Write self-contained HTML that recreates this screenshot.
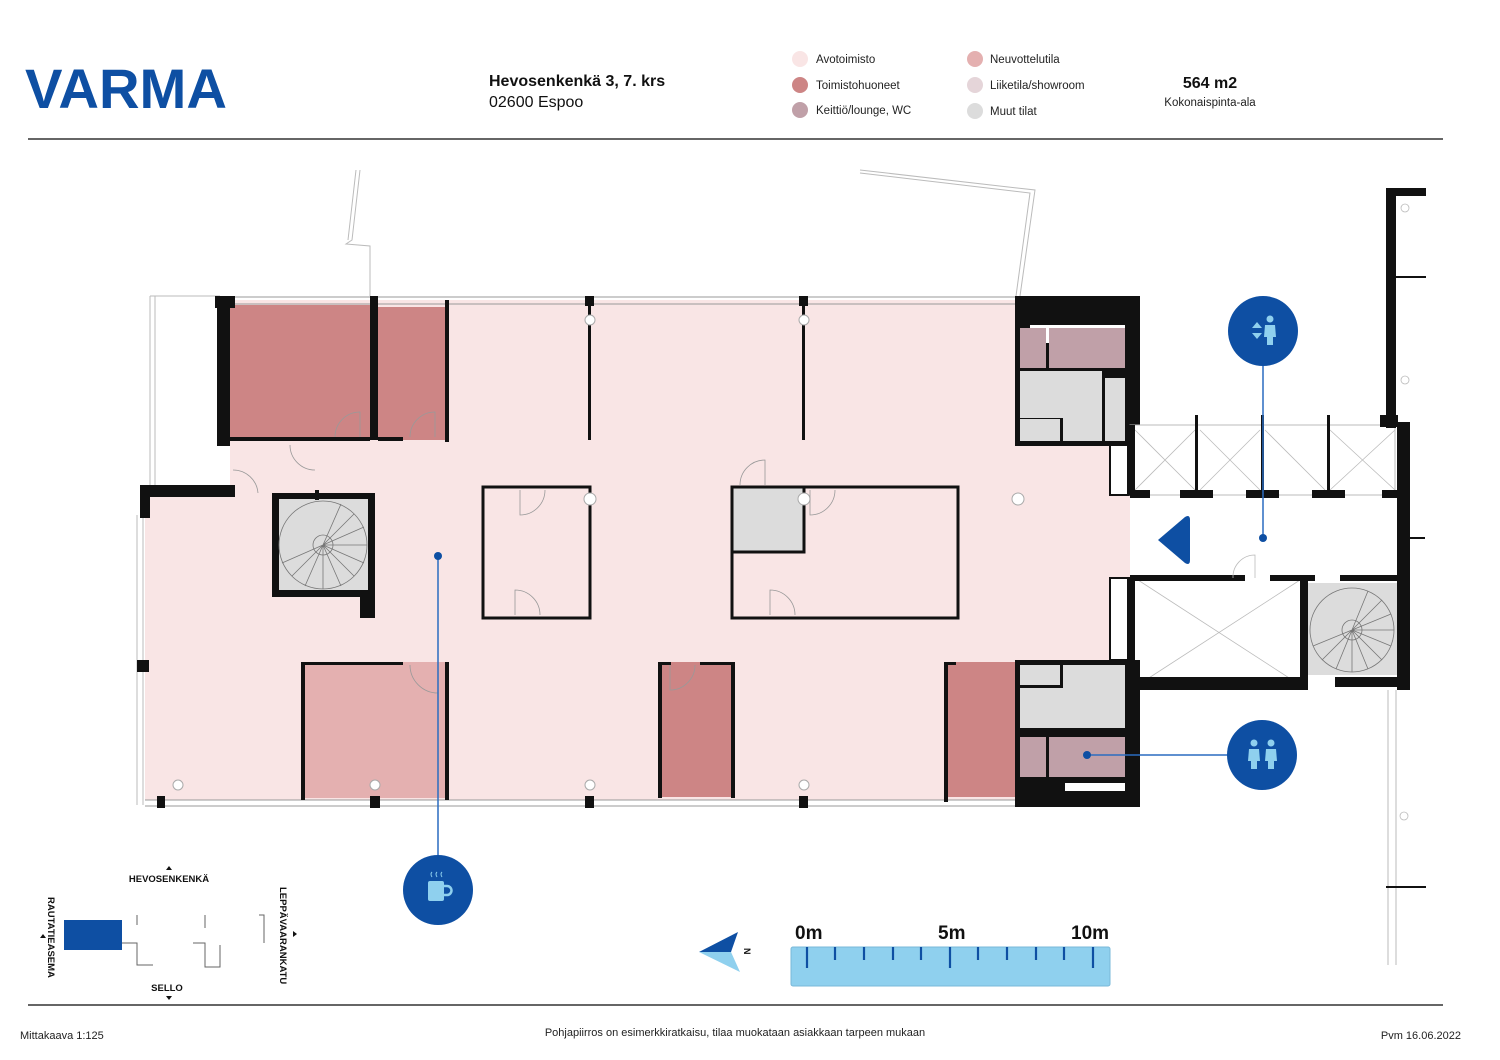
<!DOCTYPE html>
<html><head><meta charset="utf-8">
<style>
html,body{margin:0;padding:0;background:#fff;}
svg{display:block;}
text{font-family:"Liberation Sans",sans-serif;}
</style></head>
<body>
<svg width="1500" height="1060" viewBox="0 0 1500 1060" xmlns="http://www.w3.org/2000/svg">
<rect width="1500" height="1060" fill="#fff"/>
<!-- Header -->
<text x="25" y="108" font-size="56" font-weight="bold" fill="#0e4fa3" font-family="Liberation Sans Narrow, Liberation Sans, sans-serif" textLength="202" lengthAdjust="spacingAndGlyphs">VARMA</text>
<text x="489" y="86" font-size="16" font-weight="bold" fill="#111">Hevosenkenkä 3, 7. krs</text>
<text x="489" y="107" font-size="16" fill="#111">02600 Espoo</text>
<g font-size="11.5" fill="#222">
<circle cx="800" cy="59" r="8" fill="#f9e5e5"/><text x="816" y="63">Avotoimisto</text>
<circle cx="800" cy="85" r="8" fill="#cd8585"/><text x="816" y="89">Toimistohuoneet</text>
<circle cx="800" cy="110" r="8" fill="#c0a0a8"/><text x="816" y="114">Keittiö/lounge, WC</text>
<circle cx="975" cy="59" r="8" fill="#e4b0b0"/><text x="990" y="63">Neuvottelutila</text>
<circle cx="975" cy="85" r="8" fill="#e5d5d9"/><text x="990" y="89">Liiketila/showroom</text>
<circle cx="975" cy="111" r="8" fill="#dcdcdc"/><text x="990" y="115">Muut tilat</text>
</g>
<text x="1210" y="88" font-size="16" font-weight="bold" text-anchor="middle" fill="#111">564 m2</text>
<text x="1210" y="106" font-size="11.5" text-anchor="middle" fill="#222">Kokonaispinta-ala</text>
<line x1="28" y1="139" x2="1443" y2="139" stroke="#333" stroke-width="1.5"/>
<line x1="28" y1="1005" x2="1443" y2="1005" stroke="#333" stroke-width="1.5"/>
<text x="20" y="1039" font-size="11" fill="#222">Mittakaava 1:125</text>
<text x="735" y="1036" font-size="11" fill="#222" text-anchor="middle">Pohjapiirros on esimerkkiratkaisu, tilaa muokataan asiakkaan tarpeen mukaan</text>
<text x="1461" y="1039" font-size="11" fill="#222" text-anchor="end">Pvm 16.06.2022</text>

<!-- outside thin lines -->
<g fill="none" stroke="#bbb" stroke-width="1">
<polyline points="360,170 352,240 346,244 370,246 370,296"/>
<polyline points="356,170 348,240"/>
<polyline points="860,170 1035,190 1020,296"/>
<polyline points="860,173 1030,193 1016,296"/>
<line x1="150" y1="296" x2="150" y2="485"/><line x1="155" y1="296" x2="155" y2="485"/>
<line x1="150" y1="296" x2="220" y2="296"/>
<line x1="137" y1="515" x2="137" y2="805"/><line x1="143" y1="515" x2="143" y2="805"/>
<line x1="1388" y1="690" x2="1388" y2="965"/><line x1="1396" y1="690" x2="1396" y2="965"/>
</g>

<!-- Main pink floor -->
<path d="M230,300 H1020 V440 H1130 V665 H1020 V800 H145 V497 H230 Z" fill="#f9e5e5"/>
<!-- facade top/bottom thin lines -->
<g stroke="#999" stroke-width="1">
<line x1="230" y1="297" x2="1020" y2="297"/><line x1="230" y1="304" x2="1020" y2="304"/>
<line x1="145" y1="800" x2="1020" y2="800"/><line x1="145" y1="806" x2="1020" y2="806"/>
</g>
<!-- offices top -->
<rect x="230" y="305" width="142" height="135" fill="#cd8585"/>
<rect x="375" y="307" width="72" height="133" fill="#cd8585"/>
<!-- small corridor left -->
<rect x="230" y="443" width="88" height="50" fill="#f9e5e5"/>
<!-- bottom rooms -->
<rect x="303" y="662" width="144" height="136" fill="#e4b0b0"/>
<rect x="660" y="662" width="73" height="135" fill="#cd8585"/>
<rect x="946" y="662" width="72" height="135" fill="#cd8585"/>
<!-- meeting boxes -->
<rect x="483" y="487" width="107" height="131" fill="#f9e5e5" stroke="#111" stroke-width="3"/>
<rect x="732" y="487" width="226" height="131" fill="#f9e5e5" stroke="#111" stroke-width="3"/>
<rect x="732" y="487" width="72" height="65" fill="#dcdcdc" stroke="#111" stroke-width="3"/>
<!-- stair left -->
<rect x="272" y="493" width="103" height="104" fill="#111"/>
<rect x="279" y="499" width="89" height="91" fill="#dcdcdc"/>
<g fill="none" stroke="#777" stroke-width="0.8">
<circle cx="323" cy="545" r="44"/><circle cx="323" cy="545" r="10"/>
<path d="M323,545 L367,545 M323,545 L323,589 M323,545 L354,514 M323,545 L292,576 M323,545 L354,576 M323,545 L341,504 M323,545 L364,527 M323,545 L364,563 M323,545 L341,586 M323,545 L305,586 M323,545 L282,563"/>
</g>
<rect x="360" y="590" width="15" height="28" fill="#111"/>

<!-- walls main -->
<g fill="#111">
<rect x="215" y="296" width="20" height="12"/>
<rect x="217" y="296" width="13" height="150"/>
<rect x="370" y="296" width="8" height="144"/>
<rect x="445" y="300" width="4" height="142"/>
<rect x="230" y="437" width="140" height="4"/>
<rect x="378" y="437" width="25" height="4"/>
<rect x="140" y="485" width="95" height="12"/>
<rect x="140" y="485" width="10" height="33"/>
<rect x="315" y="490" width="4" height="10"/>
<rect x="585" y="296" width="9" height="10"/><rect x="588" y="306" width="3" height="134"/>
<rect x="799" y="296" width="9" height="10"/><rect x="802" y="306" width="3" height="134"/>
<rect x="301" y="662" width="4" height="138"/><rect x="303" y="662" width="100" height="3"/><rect x="445" y="662" width="4" height="138"/>
<rect x="658" y="662" width="4" height="136"/><rect x="658" y="662" width="13" height="3"/><rect x="700" y="662" width="33" height="3"/><rect x="731" y="662" width="4" height="136"/>
<rect x="944" y="662" width="4" height="140"/><rect x="944" y="662" width="12" height="3"/>
<rect x="157" y="796" width="8" height="12"/><rect x="370" y="796" width="10" height="12"/><rect x="585" y="796" width="9" height="12"/><rect x="799" y="796" width="9" height="12"/>
<rect x="137" y="660" width="12" height="12"/>
</g>
<!-- columns -->
<g fill="#fff" stroke="#aaa" stroke-width="1">
<circle cx="590" cy="320" r="5"/><circle cx="804" cy="320" r="5"/>
<circle cx="590" cy="499" r="6"/><circle cx="804" cy="499" r="6"/><circle cx="1018" cy="499" r="6"/>
<circle cx="178" cy="785" r="5"/><circle cx="375" cy="785" r="5"/><circle cx="590" cy="785" r="5"/><circle cx="804" cy="785" r="5"/>
</g>
<!-- door arcs -->
<g fill="none" stroke="#999" stroke-width="0.8">
<path d="M335,437 A25,25 0 0 1 360,412 V437"/><path d="M410,437 A25,25 0 0 1 435,412 V437"/>
<path d="M520,490 V515 A25,25 0 0 0 545,490"/><path d="M515,615 V590 A25,25 0 0 1 540,615"/>
<path d="M770,615 V590 A25,25 0 0 1 795,615"/><path d="M810,490 V515 A25,25 0 0 0 835,490"/>
<path d="M740,485 A25,25 0 0 1 765,460 V485"/>
<path d="M670,665 V690 A25,25 0 0 0 695,665"/><path d="M410,665 A28,28 0 0 0 438,693 V665"/>
<path d="M290,445 A25,25 0 0 0 315,470"/><path d="M233,470 A25,25 0 0 1 258,493"/>
</g>

<!-- Top right core -->
<rect x="1015" y="296" width="125" height="150" fill="#111"/>
<rect x="1030" y="325" width="95" height="18" fill="#fff"/>
<rect x="1020" y="328" width="26" height="40" fill="#c0a0a8"/>
<rect x="1049" y="328" width="76" height="40" fill="#c0a0a8"/>
<rect x="1020" y="371" width="82" height="70" fill="#dcdcdc"/>
<rect x="1105" y="378" width="20" height="63" fill="#dcdcdc"/>
<rect x="1020" y="418" width="40" height="1" fill="#111"/>
<rect x="1060" y="418" width="3" height="23" fill="#111"/>
<rect x="1102" y="371" width="3" height="70" fill="#111"/>
<!-- Bottom right core -->
<rect x="1015" y="660" width="125" height="147" fill="#111"/>
<rect x="1020" y="665" width="40" height="20" fill="#dcdcdc"/>
<rect x="1063" y="665" width="62" height="63" fill="#dcdcdc"/>
<rect x="1020" y="688" width="43" height="40" fill="#dcdcdc"/>
<rect x="1020" y="737" width="26" height="40" fill="#c0a0a8"/>
<rect x="1049" y="737" width="76" height="40" fill="#c0a0a8"/>
<rect x="1065" y="783" width="60" height="8" fill="#fff"/>
<!-- pink strip to right of cores -->
<rect x="1110" y="445" width="20" height="50" fill="#fff" stroke="#111" stroke-width="2"/>
<rect x="1110" y="578" width="20" height="82" fill="#fff" stroke="#111" stroke-width="2"/>

<!-- Right lobby -->
<rect x="1130" y="425" width="265" height="70" fill="#fff" stroke="#bbb"/>
<g stroke="#bbb" stroke-width="0.8" fill="none">
<path d="M1135,430 L1195,490 M1195,430 L1135,490 M1200,430 L1260,490 M1260,430 L1200,490 M1265,430 L1325,490 M1330,430 L1395,490 M1395,430 L1330,490"/>
<path d="M1138,580 L1300,685 M1300,580 L1138,685"/>
</g>
<g fill="#111">
<rect x="1127" y="425" width="8" height="70"/>
<rect x="1380" y="415" width="18" height="12"/>
<rect x="1130" y="490" width="20" height="8"/><rect x="1180" y="490" width="33" height="8"/><rect x="1246" y="490" width="33" height="8"/><rect x="1312" y="490" width="33" height="8"/><rect x="1382" y="490" width="20" height="8"/>
<rect x="1195" y="415" width="3" height="78"/><rect x="1261" y="415" width="3" height="78"/><rect x="1327" y="415" width="3" height="78"/>
<rect x="1397" y="422" width="13" height="268"/>
<rect x="1386" y="188" width="10" height="240"/><rect x="1386" y="188" width="40" height="8"/>
<rect x="1396" y="276" width="30" height="2"/><rect x="1410" y="537" width="15" height="2"/><rect x="1386" y="886" width="40" height="2"/>
<rect x="1127" y="577" width="8" height="113"/>
<rect x="1130" y="575" width="115" height="6"/><rect x="1270" y="575" width="45" height="6"/><rect x="1340" y="575" width="60" height="6"/>
<rect x="1130" y="677" width="175" height="13"/><rect x="1300" y="577" width="8" height="113"/>
<rect x="1335" y="677" width="75" height="10"/>
</g>
<rect x="1308" y="583" width="89" height="92" fill="#dcdcdc"/>
<g fill="none" stroke="#777" stroke-width="0.8">
<circle cx="1352" cy="630" r="42"/><circle cx="1352" cy="630" r="10"/>
<path d="M1352,630 L1394,630 M1352,630 L1352,672 M1352,630 L1382,600 M1352,630 L1382,660 M1352,630 L1322,660 M1352,630 L1368,591 M1352,630 L1391,614 M1352,630 L1391,646 M1352,630 L1368,669 M1352,630 L1336,669 M1352,630 L1313,646"/>
</g>
<g fill="none" stroke="#bbb" stroke-width="0.8">
<path d="M1255,578 V555 A22,22 0 0 0 1233,578"/>
<circle cx="1405" cy="208" r="4"/><circle cx="1405" cy="380" r="4"/><circle cx="1404" cy="816" r="4"/>
</g>
<!-- entrance arrow -->
<path d="M1158,540 L1185,517 Q1190,514 1190,520 V560 Q1190,566 1185,563 Z" fill="#0e4fa3"/>

<!-- Blue markers -->
<g stroke="#2a6cc0" stroke-width="1.5">
<line x1="1263" y1="340" x2="1263" y2="538"/>
<line x1="1087" y1="755" x2="1230" y2="755"/>
<line x1="438" y1="556" x2="438" y2="860"/>
</g>
<g fill="#0e4fa3">
<circle cx="1263" cy="538" r="4"/><circle cx="1087" cy="755" r="4"/><circle cx="438" cy="556" r="4"/>
<circle cx="1263" cy="331" r="35"/><circle cx="1262" cy="755" r="35"/><circle cx="438" cy="890" r="35"/>
</g>
<g fill="#8fd0ee">
<path d="M1252,328 L1257,322 L1262,328 Z M1252,333 L1262,333 L1257,339 Z"/>
<circle cx="1270" cy="319" r="3.5"/><path d="M1265,325 H1275 L1276,337 H1273 V345 H1267 V337 H1264 Z"/>
<circle cx="1254" cy="743" r="3.5"/><path d="M1249,749 H1259 L1260,761 H1257 V769 H1251 V761 H1248 Z"/>
<circle cx="1271" cy="743" r="3.5"/><path d="M1266,749 H1276 L1277,761 H1274 V769 H1268 V761 H1265 Z"/>
<rect x="428" y="881" width="16" height="20" rx="2"/>
</g>
<path d="M444,886 h3 a4,4 0 0 1 0,9 h-3" fill="none" stroke="#8fd0ee" stroke-width="2.5"/>
<path d="M432,877 q-2,-3 0,-5 M437,877 q-2,-3 0,-5 M442,877 q-2,-3 0,-5" fill="none" stroke="#8fd0ee" stroke-width="1"/>

<!-- Mini map -->
<text x="169" y="882" font-size="9.5" font-weight="bold" text-anchor="middle" fill="#111">HEVOSENKENKÄ</text>
<path d="M166,870 l3,-4 l3,4 z" fill="#111"/>
<text x="167" y="991" font-size="9.5" font-weight="bold" text-anchor="middle" fill="#111">SELLO</text>
<path d="M166,996 l3,4 l3,-4 z" fill="#111"/>
<text font-size="9.5" font-weight="bold" fill="#111" transform="translate(48,897) rotate(90)">RAUTATIEASEMA</text>
<path d="M40,938 l3,-4 l3,4 z" fill="#111"/>
<text font-size="9.5" font-weight="bold" fill="#111" transform="translate(280,887) rotate(90)">LEPPÄVAARANKATU</text>
<path d="M293,931 l4,3 l-4,3 z" fill="#111"/>
<rect x="64" y="920" width="58" height="30" fill="#0e4fa3"/>
<g fill="none" stroke="#666" stroke-width="1">
<polyline points="122,943 137,943 137,965 153,965"/>
<polyline points="193,943 205,943 205,967 220,967 220,945"/>
<line x1="137" y1="915" x2="137" y2="925"/><line x1="205" y1="915" x2="205" y2="928"/>
<polyline points="259,915 264,915 264,943"/>
</g>

<!-- Compass -->
<path d="M699,952 L738,932 L731,952 Z" fill="#0e4fa3"/>
<path d="M699,952 L731,952 L740,972 Z" fill="#8fd0ee"/>
<text font-size="9" font-weight="bold" fill="#111" transform="translate(744,948) rotate(90)">N</text>

<!-- Scale bar -->
<rect x="791" y="947" width="319" height="39" rx="2" fill="#8fd0ee" stroke="#7ab8d8"/>
<g stroke="#0e4fa3" stroke-width="2.2">
<line x1="807" y1="947" x2="807" y2="968"/><line x1="835" y1="947" x2="835" y2="960"/><line x1="864" y1="947" x2="864" y2="960"/><line x1="893" y1="947" x2="893" y2="960"/><line x1="921" y1="947" x2="921" y2="960"/>
<line x1="950" y1="947" x2="950" y2="968"/><line x1="978" y1="947" x2="978" y2="960"/><line x1="1007" y1="947" x2="1007" y2="960"/><line x1="1036" y1="947" x2="1036" y2="960"/><line x1="1064" y1="947" x2="1064" y2="960"/>
<line x1="1093" y1="947" x2="1093" y2="968"/>
</g>
<g font-size="19" font-weight="bold" fill="#111">
<text x="795" y="939">0m</text><text x="938" y="939">5m</text><text x="1071" y="939">10m</text>
</g>
</svg>
</body></html>
